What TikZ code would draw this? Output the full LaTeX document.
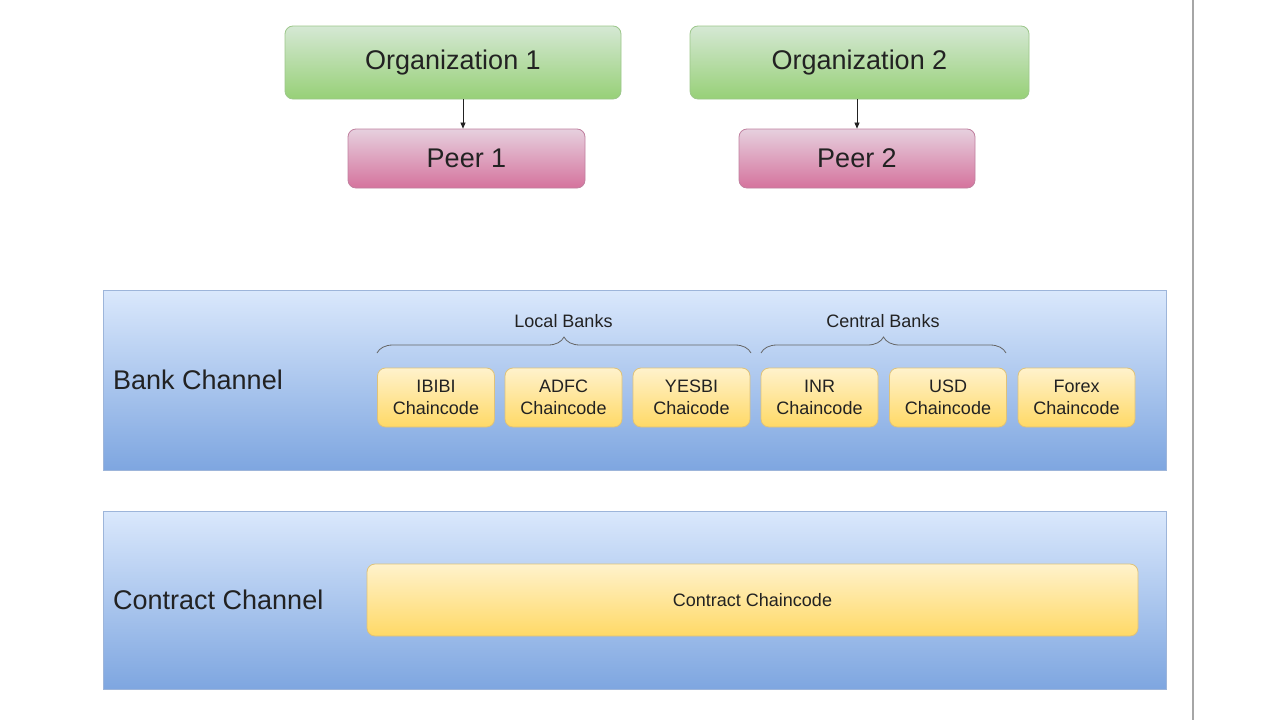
\documentclass[tikz,border=0pt]{standalone}
\usepackage{fontspec}
\setmainfont{Liberation Sans}
\usetikzlibrary{arrows.meta,decorations.pathreplacing}
\definecolor{gTop}{HTML}{D5E8D4}\definecolor{gBot}{HTML}{97D077}\definecolor{gLine}{HTML}{9CC78A}
\definecolor{pTop}{HTML}{E6D0DE}\definecolor{pBot}{HTML}{D5739D}\definecolor{pLine}{HTML}{C0809F}
\definecolor{bTop}{HTML}{DAE8FC}\definecolor{bBot}{HTML}{7EA6E0}\definecolor{bLine}{HTML}{9DB5DA}
\definecolor{yTop}{HTML}{FFF2CC}\definecolor{yBot}{HTML}{FFD966}\definecolor{yLine}{HTML}{DEC27A}
\definecolor{txt}{HTML}{222222}
\begin{document}
\begin{tikzpicture}[x=1pt,y=-1pt,
  box/.style={rounded corners=8pt,inner sep=0pt,line width=0.8pt,text=txt,align=center},
  orgbox/.style={box,draw=gLine,top color=gTop,bottom color=gBot,minimum height=73pt,font=\fontsize{27}{31}\selectfont},
  peerbox/.style={box,draw=pLine,top color=pTop,bottom color=pBot,minimum height=59pt,minimum width=237pt,font=\fontsize{27}{31}\selectfont},
  chanbox/.style={draw=bLine,line width=1pt,top color=bTop,bottom color=bBot,inner sep=0pt,minimum width=1063pt},
  ccbox/.style={box,draw=yLine,top color=yTop,bottom color=yBot,minimum width=117pt,minimum height=59pt,font=\fontsize{18}{22}\selectfont},
  chanlabel/.style={anchor=west,inner sep=0pt,text=txt,font=\fontsize{27}{31}\selectfont},
  grplabel/.style={inner sep=0pt,text=txt,font=\fontsize{18}{22}\selectfont},
  grpbrace/.style={draw=black!60,line width=0.8pt,decorate,decoration={brace,amplitude=16pt}},
  link/.style={draw=txt,line width=0.7pt,-{Triangle[width=5pt,length=6pt]}}]
\useasboundingbox (0,0) rectangle (1280,720);
\fill[white] (0,0) rectangle (1280,720);
\draw[black!35,line width=1.5pt] (1193,0) -- (1193,720);
% organisations and peers
\node[orgbox,minimum width=336pt] (org1) at (453,62.5) {Organization 1};
\node[orgbox,minimum width=339pt] (org2) at (859.5,62.5) {Organization 2};
\node[peerbox] (peer1) at (466.5,158.5) {Peer 1};
\node[peerbox,minimum width=236pt] (peer2) at (857,158.5) {Peer 2};
\draw[link] ([xshift=-3.5pt]peer1.north |- org1.south) -- ([xshift=-3.5pt]peer1.north);
\draw[link] (peer2.north |- org2.south) -- (peer2.north);
% channels
\node[chanbox,minimum height=180pt] (bank) at (634.5,380) {};
\node[chanbox,minimum height=178pt] (contract) at (634.5,600) {};
\node[chanlabel] (banklbl) at (113,380) {Bank Channel};
\node[chanlabel] (contractlbl) at (113,600) {Contract Channel};
% bank chaincodes
\node[ccbox] (ibibi) at (436,397.5) {IBIBI\\Chaincode};
\node[ccbox] (adfc) at (563.5,397.5) {ADFC\\Chaincode};
\node[ccbox] (yesbi) at (691.5,397.5) {YESBI\\Chaicode};
\node[ccbox] (inr) at (819.5,397.5) {INR\\Chaincode};
\node[ccbox] (usd) at (948,397.5) {USD\\Chaincode};
\node[ccbox] (forex) at (1076.5,397.5) {Forex\\Chaincode};
% groups
\coordinate (lbA) at (377,353);
\coordinate (lbB) at (751,353);
\coordinate (cbA) at (761,353);
\coordinate (cbB) at (1006,353);
\draw[grpbrace] (lbA) -- (lbB);
\draw[grpbrace] (cbA) -- (cbB);
\node[grplabel] (local) at (563.5,321) {Local Banks};
\node[grplabel] (central) at (883,321) {Central Banks};
% contract chaincode
\node[ccbox,minimum width=771pt,minimum height=72pt] (contractcc) at (752.5,600) {Contract Chaincode};
\end{tikzpicture}
\end{document}
